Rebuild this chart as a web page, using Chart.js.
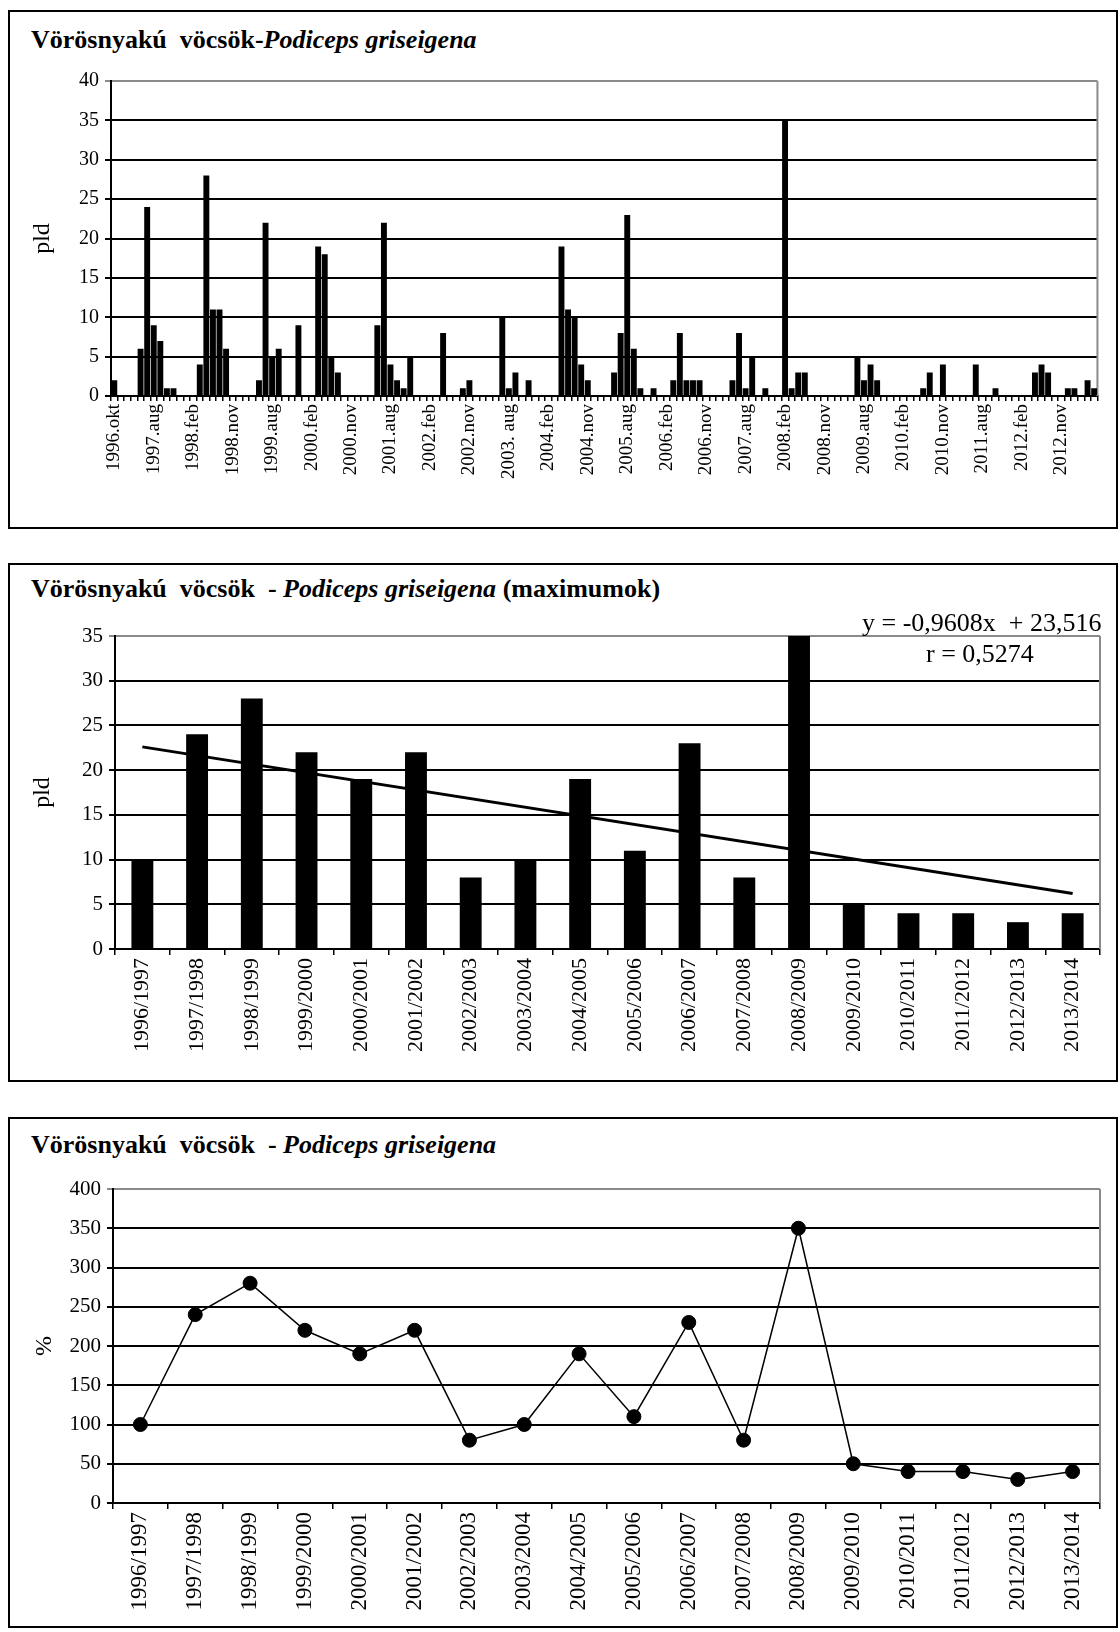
<!DOCTYPE html>
<html lang="hu">
<head>
<meta charset="UTF-8">
<title>Vörösnyakú vöcsök - Podiceps griseigena</title>
<script src="https://cdn.jsdelivr.net/npm/chart.js"></script>
<style>
body { margin: 0; background: #fff; font-family: "Liberation Serif", "Times New Roman", serif; color: #000; }
#page { position: relative; width: 1120px; height: 1632px; overflow: hidden; }
.box { position: absolute; left: 8px; width: 1110px; border: 2px solid #000; box-sizing: border-box; }
.title { position: absolute; left: 31px; font-weight: bold; font-size: 26px; line-height: 26px; white-space: pre; }
.note { position: absolute; font-size: 26px; line-height: 26px; white-space: pre; }
canvas { position: absolute; left: 0; }
</style>
</head>
<body>
<div id="page">
    <div class="box" style="top:10px; height:519px;"></div>
    <div class="box" style="top:563px; height:519px;"></div>
    <div class="box" style="top:1117px; height:511px;"></div>

    <div class="title" style="top:27px;">Vörösnyakú  vöcsök-<i>Podiceps griseigena</i></div>
    <div class="title" style="top:576px;">Vörösnyakú  vöcsök  - <i>Podiceps griseigena</i> (maximumok)</div>
    <div class="title" style="top:1132px;">Vörösnyakú  vöcsök  - <i>Podiceps griseigena</i></div>

    <canvas id="monthly" width="1120" height="540" style="top:0;"></canvas>
    <canvas id="maxima" width="1120" height="545" style="top:545px;"></canvas>
    <canvas id="percent" width="1120" height="532" style="top:1100px;"></canvas>

    <div class="note" style="top:610px; left:862px;">y = -0,9608x  + 23,516</div>
    <div class="note" style="top:641px; left:926px;">r = 0,5274</div>
</div>

<script>
// labels shown under every 6th count
const monthLabels = [
    "1996.okt", "1997.aug", "1998.feb", "1998.nov", "1999.aug", "2000.feb", "2000.nov",
    "2001.aug", "2002.feb", "2002.nov", "2003. aug", "2004.feb", "2004.nov", "2005.aug",
    "2006.feb", "2006.nov", "2007.aug", "2008.feb", "2008.nov", "2009.aug", "2010.feb",
    "2010.nov", "2011.aug", "2012.feb", "2012.nov"
];

// counts, one row per labelled block of 6
const monthCounts = [
    2, 0, 0, 0, 6, 24,
    9, 7, 1, 1, 0, 0,
    0, 4, 28, 11, 11, 6,
    0, 0, 0, 0, 2, 22,
    5, 6, 0, 0, 9, 0,
    0, 19, 18, 5, 3, 0,
    0, 0, 0, 0, 9, 22,
    4, 2, 1, 5, 0, 0,
    0, 0, 8, 0, 0, 1,
    2, 0, 0, 0, 0, 10,
    1, 3, 0, 2, 0, 0,
    0, 0, 19, 11, 10, 4,
    2, 0, 0, 0, 3, 8,
    23, 6, 1, 0, 1, 0,
    0, 2, 8, 2, 2, 2,
    0, 0, 0, 0, 2, 8,
    1, 5, 0, 1, 0, 0,
    35, 1, 3, 3, 0, 0,
    0, 0, 0, 0, 0, 5,
    2, 4, 2, 0, 0, 0,
    0, 0, 0, 1, 3, 0,
    4, 0, 0, 0, 0, 4,
    0, 0, 1, 0, 0, 0,
    0, 0, 3, 4, 3, 0,
    0, 1, 1, 0, 2, 1
];

const seasons = [
    "1996/1997", "1997/1998", "1998/1999", "1999/2000", "2000/2001", "2001/2002",
    "2002/2003", "2003/2004", "2004/2005", "2005/2006", "2006/2007", "2007/2008",
    "2008/2009", "2009/2010", "2010/2011", "2011/2012", "2012/2013", "2013/2014"
];
const seasonMax = [10, 24, 28, 22, 19, 22, 8, 10, 19, 11, 23, 8, 35, 5, 4, 4, 3, 4];
const seasonPct = [100, 240, 280, 220, 190, 220, 80, 100, 190, 110, 230, 80, 350, 50, 40, 40, 30, 40];
// trend line end points
const trendLine = [22.6, null, null, null, null, null, null, null, null, null, null, null, null, null, null, null, null, 6.2];

const serif = "'Liberation Serif', 'Times New Roman', serif";

// gray plot-area frame on the right (Excel style)
const frame = {
    id: 'frame',
    beforeDatasetsDraw(chart) {
        const a = chart.chartArea;
        const c = chart.ctx;
        c.save();
        c.strokeStyle = '#8a8a8a';
        c.lineWidth = 2;
        c.beginPath();
        c.moveTo(a.right, a.top);
        c.lineTo(a.right, a.bottom);
        c.stroke();
        c.restore();
    }
};

function yAxis(max, step, size, width, title) {
    return {
        min: 0,
        max: max,
        ticks: { stepSize: step, color: '#000', font: { family: serif, size: size }, padding: 6 },
        grid: {
            color: c => c.tick && c.tick.value === max ? '#8a8a8a' : '#000',
            lineWidth: 2,
            tickLength: 6
        },
        border: { color: '#000', width: 2 },
        title: { display: true, text: title, color: '#000', font: { family: serif, size: 24 }, padding: { top: 0, bottom: 0 } },
        afterFit(s) { s.width = width; }
    };
}

function xAxis(size, height, tickLen) {
    return {
        offset: true,
        grid: { offset: true, drawOnChartArea: false, color: '#000', lineWidth: 1.5, tickLength: tickLen },
        border: { color: '#000', width: 2 },
        ticks: { autoSkip: false, maxRotation: 90, minRotation: 90, color: '#000', font: { family: serif, size: size }, padding: 3 },
        afterFit(s) { s.height = height; }
    };
}

const common = {
    responsive: false,
    animation: false,
    plugins: { legend: { display: false }, tooltip: { enabled: false } }
};

new Chart(document.getElementById('monthly'), {
    type: 'bar',
    data: {
        labels: monthCounts.map((v, i) => i % 6 === 0 ? monthLabels[i / 6] : ''),
        datasets: [{
            data: monthCounts,
            backgroundColor: '#000',
            categoryPercentage: 1,
            barPercentage: 0.9
        }]
    },
    options: {
        ...common,
        layout: { padding: { left: 28, right: 16, top: 81, bottom: 0 } },
        scales: {
            x: xAxis(19, 144, 5),
            y: yAxis(40, 5, 20, 83, 'pld')
        }
    },
    plugins: [frame]
});

new Chart(document.getElementById('maxima'), {
    type: 'bar',
    data: {
        labels: seasons,
        datasets: [
            {
                type: 'line',
                data: trendLine,
                borderColor: '#000',
                borderWidth: 3,
                pointRadius: 0,
                spanGaps: true
            },
            {
                data: seasonMax,
                backgroundColor: '#000',
                categoryPercentage: 1,
                barPercentage: 0.4
            }
        ]
    },
    options: {
        ...common,
        layout: { padding: { left: 28, right: 20, top: 91, bottom: 0 } },
        scales: {
            x: xAxis(22, 141, 6),
            y: yAxis(35, 5, 21, 87, 'pld')
        }
    },
    plugins: [frame]
});

new Chart(document.getElementById('percent'), {
    type: 'line',
    data: {
        labels: seasons,
        datasets: [{
            data: seasonPct,
            borderColor: '#000',
            borderWidth: 1.5,
            backgroundColor: '#000',
            pointRadius: 7,
            pointBorderWidth: 1,
            pointBackgroundColor: '#000'
        }]
    },
    options: {
        ...common,
        layout: { padding: { left: 30, right: 20, top: 89, bottom: 0 } },
        scales: {
            x: xAxis(23, 129, 6),
            y: yAxis(400, 50, 21, 83, '%')
        }
    },
    plugins: [frame]
});
</script>
</body>
</html>
